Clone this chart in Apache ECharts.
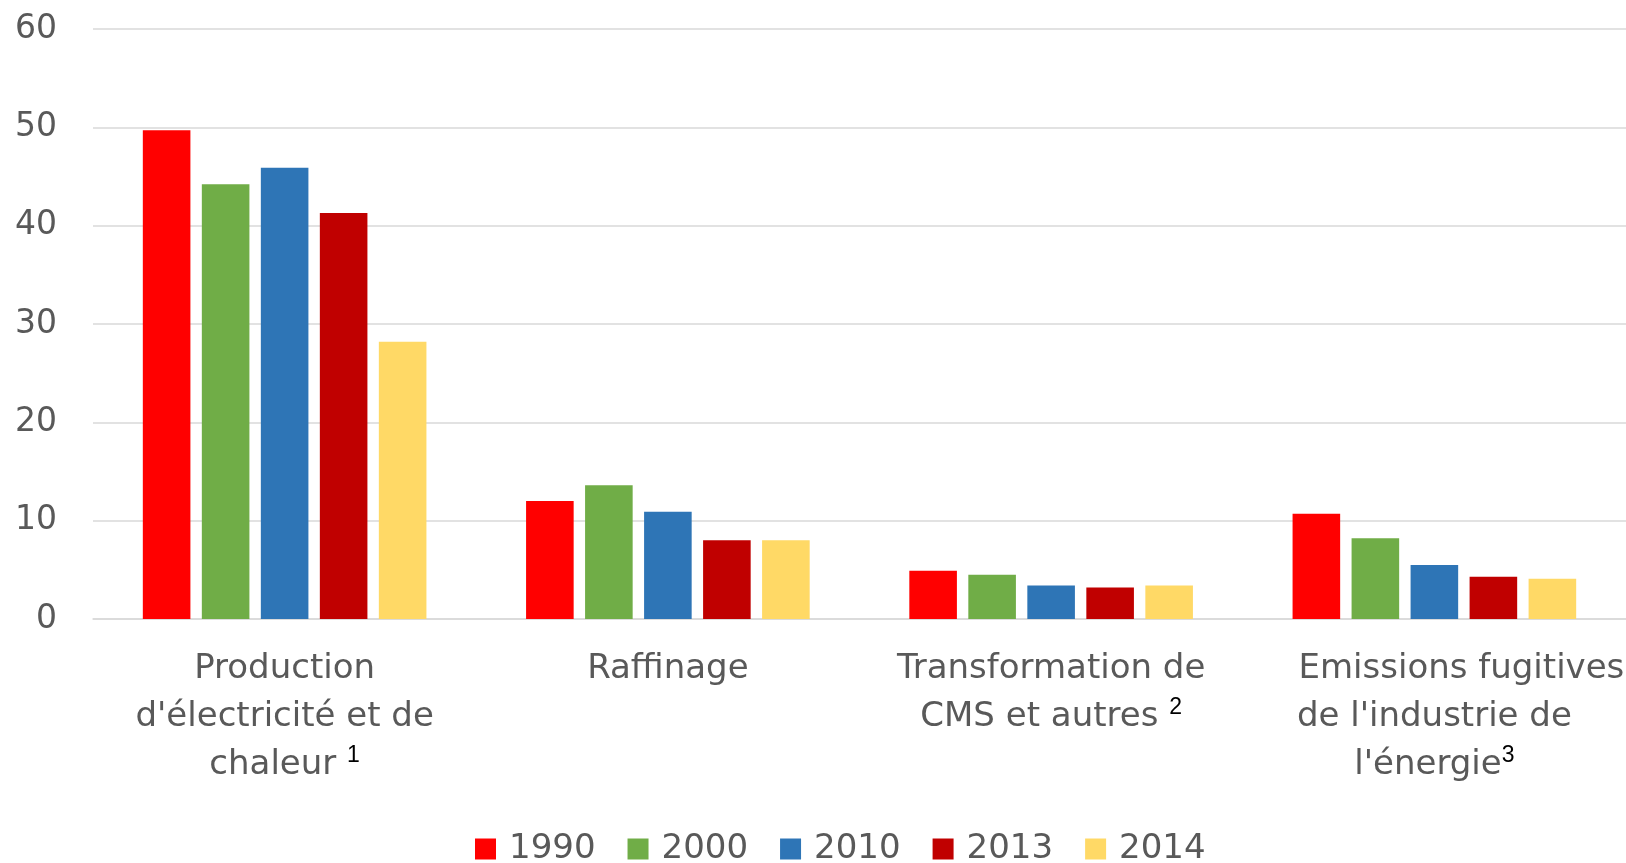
<!DOCTYPE html>
<html>
<head>
<meta charset="utf-8">
<script src="https://cdn.jsdelivr.net/npm/echarts@6/dist/echarts.min.js"></script>
<style>
  html, body { margin: 0; padding: 0; background: #fff; }
  #chart { width: 1626px; height: 863px; }
</style>
</head>
<body>
<div id="chart"></div>
<script>
// catégories (avec renvoi de note)
const categories = [
  "Production\nd'électricité et de\nchaleur ",
  "Raffinage",
  "Transformation de\nCMS et autres ",
  "     Emissions fugitives\nde l'industrie de\nl'énergie"
];
const notes = ['1', '', '2', '3'];

const years = ['1990', '2000', '2010', '2013', '2014'];
const v1990 = [49.7, 12.0, 4.9, 10.7];
const v2000 = [44.2, 13.6, 4.5, 8.2];
const v2010 = [45.9, 10.9, 3.4, 5.5];
const v2013 = [41.3, 8.0, 3.2, 4.3];
const v2014 = [28.2, 8.0, 3.4, 4.1];
const yTicks = [0, 10, 20, 30, 40, 50, 60];

const colors = ['#ff0000', '#70ad47', '#2e75b6', '#c00000', '#ffd966'];
const values = [v1990, v2000, v2010, v2013, v2014];

const chart = echarts.init(document.getElementById('chart'));

const font = 'DejaVu Sans';
const grey = '#595959';

chart.setOption({
  animation: false,
  backgroundColor: '#fff',
  color: colors,
  grid: {
    left: 93,
    right: 0,
    top: 29,
    bottom: 244,
    outerBoundsMode: 'none'
  },
  legend: {
    data: years,
    top: 827,
    left: 470,
    icon: 'rect',
    itemWidth: 21,
    itemHeight: 21,
    itemGap: 32,
    textStyle: { fontFamily: font, fontSize: 34, color: grey, padding: [0, 0, 0, 8] }
  },
  xAxis: {
    type: 'category',
    data: categories,
    axisLine: { lineStyle: { color: '#d9d9d9', width: 1.5 } },
    axisTick: { show: false },
    axisLabel: {
      interval: 0,
      margin: 26,
      fontFamily: font,
      fontSize: 34,
      lineHeight: 48,
      color: grey,
      formatter: function (v, i) {
        return notes[i] ? v + '{sup|' + notes[i] + '}' : v;
      },
      rich: {
        sup: {
          fontFamily: 'Liberation Sans',
          fontSize: 23,
          color: '#000',
          padding: [0, 0, 18, 0]
        }
      }
    }
  },
  yAxis: {
    type: 'value',
    min: yTicks[0],
    max: yTicks[yTicks.length - 1],
    interval: 10,
    axisLine: { show: false },
    axisTick: { show: false },
    splitLine: { lineStyle: { color: '#d9d9d9', width: 1.5 } },
    axisLabel: {
      margin: 36,
      fontFamily: font,
      fontSize: 33,
      color: grey
    }
  },
  series: years.map(function (y, k) {
    return {
      name: y,
      type: 'bar',
      data: values[k],
      barGap: '24%',
      barCategoryGap: '26%',
      itemStyle: { color: colors[k] }
    };
  })
});
</script>
</body>
</html>
